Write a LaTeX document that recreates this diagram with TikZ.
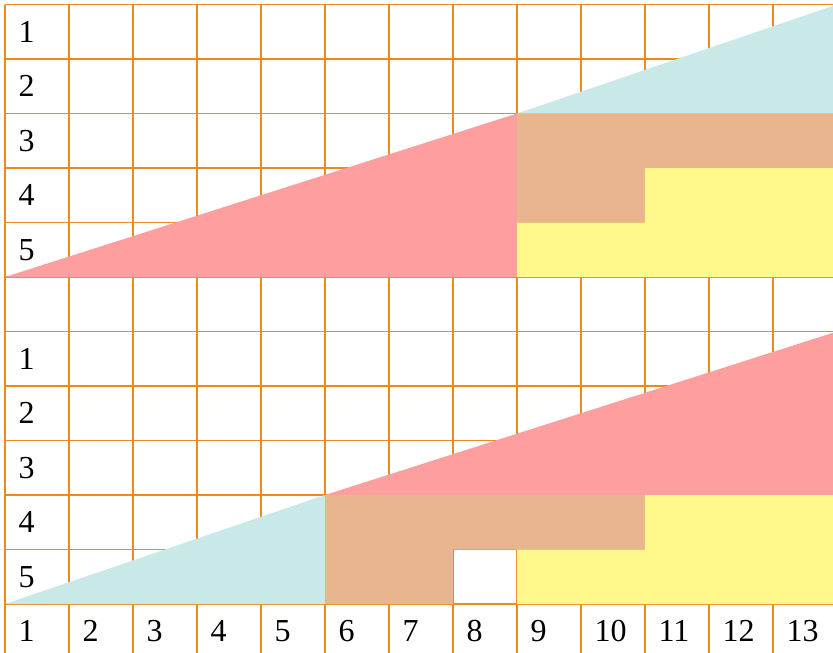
\documentclass[tikz,border=0pt]{standalone}
\usepackage{fontspec}
\setmainfont{Liberation Serif}
\usetikzlibrary{positioning}

\definecolor{gridline}{HTML}{EE8A1C}
\definecolor{wred}{HTML}{FF9E9E}
\definecolor{wcyan}{HTML}{C9E9E9}
\definecolor{wtan}{HTML}{E9B58F}
\definecolor{wyellow}{HTML}{FFF98C}

\begin{document}
\begin{tikzpicture}[
  x=48pt, y=-40.875pt,
  font=\fontsize{24}{28}\selectfont,
  gridln/.style={draw=gridline, line width=1pt},
  num/.style={anchor=west, inner sep=0pt, xshift=10pt},
  wash/.style={draw=none}
]
% ---------- Canvas ----------
\useasboundingbox (-0.078,-0.083) rectangle (12.938,11.881);
\clip (-0.078,-0.083) rectangle (12.938,11.881);

% ---------- Grid ----------
\foreach \c in {0,...,13}
  \draw[gridln] (\c,0) -- (\c,12);
\foreach \r in {0,...,12}
  \draw[gridln] (0,\r) -- (13,\r);

% ---------- Upper chart ----------
\fill[wash, wred]    (0,5) -- (8,5) -- (8,2) -- cycle;
\fill[wash, wcyan]   (8,2) -- (13,2) -- (13,0) -- cycle;
\fill[wash, wtan]    (8,2) -- (13,2) -- (13,3) -- (10,3) -- (10,4) -- (8,4) -- cycle;
\fill[wash, wyellow] (8,4) -- (10,4) -- (10,3) -- (13,3) -- (13,5) -- (8,5) -- cycle;

% ---------- Lower chart ----------
\fill[wash, wcyan]   (0,11) -- (5,11) -- (5,9) -- cycle;
\fill[wash, wred]    (5,9) -- (13,9) -- (13,6) -- cycle;
\fill[wash, wtan]    (5,9) -- (10,9) -- (10,10) -- (7,10) -- (7,11) -- (5,11) -- cycle;
\fill[wash, wyellow] (8,10) -- (10,10) -- (10,9) -- (13,9) -- (13,11) -- (8,11) -- cycle;

% ---------- Row and column numbers ----------
\foreach \r in {1,...,5} {
  \node[num] (up\r) at (0,\r-0.5) {\r};
  \node[num] (lo\r) at (0,\r+5.5) {\r};
}
\foreach \c in {1,...,13}
  \node[num] (col\c) at (\c-1,11.5) {\c};
\end{tikzpicture}
\end{document}
